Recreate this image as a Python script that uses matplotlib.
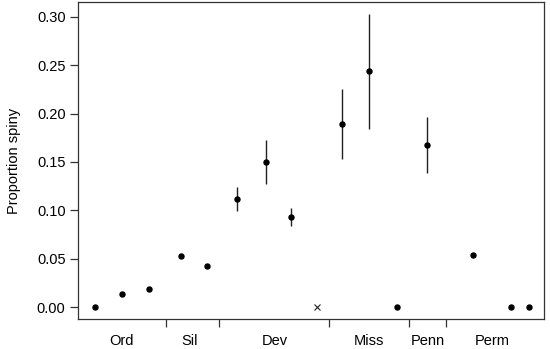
import matplotlib
matplotlib.use("Agg")
import matplotlib.pyplot as plt
import numpy as np

# positions along the time axis (arbitrary units, left -> right)
xpos = [95, 122, 149, 181, 207, 237, 266, 291, 317, 342, 369, 397, 427, 473, 511, 529]
prop = [0.000, 0.013, 0.019, 0.053, 0.042, 0.112, 0.150, 0.093, 0.000, 0.189, 0.244, 0.000, 0.168, 0.0535, 0.000, 0.000]
lo = [None, None, None, None, None, 0.0996, 0.127, 0.084, None, 0.153, 0.184, None, 0.139, None, None, None]
hi = [None, None, None, None, None, 0.124, 0.173, 0.102, None, 0.225, 0.303, None, 0.197, None, None, None]
# sample with no data drawn as a cross
missing = [False] * 8 + [True] + [False] * 7

period_bounds = [166, 219, 329, 409, 446]
period_labels = ["Ord", "Sil", "Dev", "Miss", "Penn", "Perm"]
period_mid = [122, 190, 275, 369, 428, 492]

plt.rcParams["font.family"] = ["Liberation Sans", "DejaVu Sans"]

fig = plt.figure(figsize=(5.5, 3.49), dpi=100)
ax = fig.add_axes([78 / 550, 30 / 349, (544 - 78) / 550, (347 - 30) / 349])

for x, y, l, h, m in zip(xpos, prop, lo, hi, missing):
    if l is not None:
        ax.plot([x, x], [l, h], color="#222222", lw=1.0, solid_capstyle="butt")
    if m:
        ax.plot(x, y, marker="x", color="#222222", ms=5, mew=0.8, ls="none")
    else:
        ax.plot(x, y, marker="o", color="black", ms=3.6, ls="none")

ax.set_xlim(78, 544)
ax.set_ylim(-0.0124, 0.3155)

ax.set_yticks(np.arange(0, 0.31, 0.05))
ax.set_yticklabels([f"{v:.2f}" for v in np.arange(0, 0.31, 0.05)])
ax.tick_params(axis="y", direction="out", length=6, width=0.9, labelsize=10.5, pad=3, color="#333333")

ax.set_xticks(period_bounds)
ax.set_xticklabels([])
ax.set_xticks(period_mid, minor=True)
ax.set_xticklabels(period_labels, minor=True)
ax.tick_params(axis="x", which="major", direction="out", length=6, width=0.9, color="#333333")
ax.tick_params(axis="x", which="minor", length=0, labelsize=10.5, pad=11)

for s in ax.spines.values():
    s.set_linewidth(0.9)
    s.set_color("#333333")

ax.set_ylabel("Proportion spiny", fontsize=10.5, labelpad=11)

fig.savefig("out.png", dpi=100)
